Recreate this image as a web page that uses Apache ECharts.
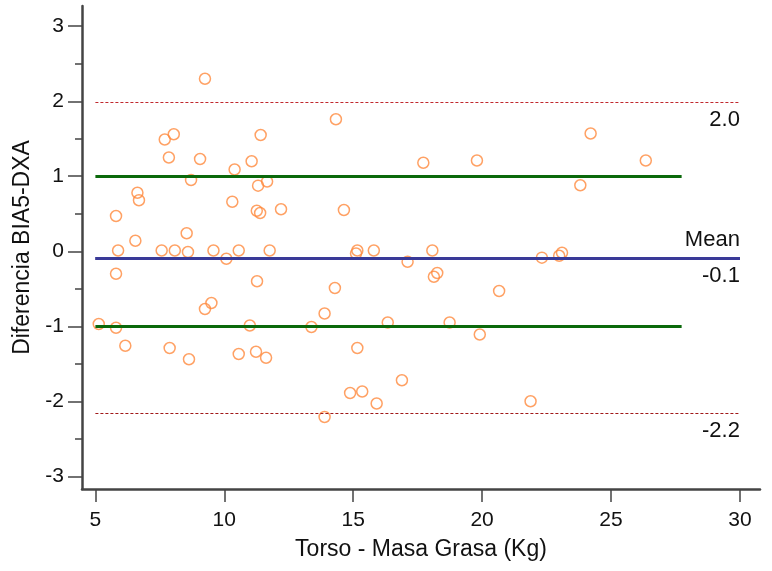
<!DOCTYPE html>
<html>
<head>
<meta charset="utf-8">
<script src="https://cdn.jsdelivr.net/npm/echarts@6/dist/echarts.min.js"></script>
<style>html,body{margin:0;padding:0;background:#fff}#c{width:772px;height:571px}</style>
</head>
<body>
<div id="c"></div>
<script>
// Data
const xValues = [9.25,7.69,8.04,11.41,7.85,9.06,10.40,11.06,8.71,11.31,11.66,6.63,6.69,10.31,11.26,11.39,12.20,5.80,8.54,6.55,
  5.88,7.57,8.08,8.59,9.58,10.08,10.56,11.76,5.80,11.27,9.50,9.25,5.13,5.80,10.99,6.16,7.88,8.63,10.56,11.23,11.62,
  14.64,15.16,15.11,15.80,17.11,18.07,18.13,18.26,22.32,14.29,20.66,13.89,13.38,16.34,18.74,19.91,15.16,16.89,14.88,15.35,15.91,21.88,13.89,
  14.33,17.72,19.80,24.21,26.35,23.81,23.10,22.99];
const yValues = [2.30,1.49,1.56,1.55,1.25,1.23,1.09,1.20,0.95,0.875,0.93,0.78,0.68,0.66,0.54,0.51,0.56,0.47,0.24,0.14,
  0.01,0.01,0.01,-0.01,0.01,-0.10,0.01,0.01,-0.30,-0.40,-0.69,-0.77,-0.97,-1.02,-0.99,-1.26,-1.29,-1.44,-1.37,-1.34,-1.42,
  0.55,0.01,-0.03,0.01,-0.14,0.01,-0.34,-0.29,-0.085,-0.49,-0.53,-0.83,-1.01,-0.95,-0.95,-1.11,-1.29,-1.72,-1.89,-1.87,-2.03,-2.00,-2.21,
  1.76,1.18,1.21,1.57,1.21,0.88,-0.02,-0.06];
const xTicks = [5,10,15,20,25,30];
const yTicks = [-3,-2,-1,0,1,2,3];
const yMinorTicks = [-2.5,-1.5,-0.5,0.5,1.5,2.5];
const meanDiff = -0.09;
const upperLoA = 1.99;
const lowerLoA = -2.16;
const band = [-1.0, 1.0];
const lineStart = 5;
const lineEnd = 30;
const bandEnd = 27.74;
const labels = {upper: '2.0', mean: 'Mean', meanVal: '-0.1', lower: '-2.2'};

const pts = xValues.map((x,i)=>[x,yValues[i]]);
const FONT = 'Liberation Sans, Arial, Helvetica, sans-serif';
const axisCol = '#444';

const chart = echarts.init(document.getElementById('c'));
const lbl = (text, pos) => ({show:true, formatter:text, position:pos, color:'#111', fontSize:22, fontFamily:FONT, distance:[0,7]});
chart.setOption({
  animation:false,
  grid:{left:82, right:12, top:6, bottom:82},
  xAxis:{type:'value', min:4.48, max:30.78,
    name:'Torso - Masa Grasa (Kg)', nameLocation:'middle', nameGap:49,
    nameTextStyle:{fontSize:23, color:'#111', fontFamily:FONT},
    axisLine:{show:true, onZero:false, lineStyle:{color:axisCol, width:2.5}},
    axisTick:{show:true, length:13, customValues:xTicks, lineStyle:{color:axisCol, width:1.5}},
    axisLabel:{customValues:xTicks, fontSize:21, color:'#111', margin:21, fontFamily:FONT},
    splitLine:{show:false}},
  yAxis:[{type:'value', min:-3.17, max:3.27,
    name:'Diferencia BIA5-DXA', nameLocation:'middle', nameGap:48, nameRotate:90,
    nameTextStyle:{fontSize:23, color:'#111', fontFamily:FONT},
    axisLine:{show:true, onZero:false, lineStyle:{color:axisCol, width:2.5}},
    axisTick:{show:true, length:14, customValues:yTicks, lineStyle:{color:axisCol, width:1.5}},
    axisLabel:{customValues:yTicks, fontSize:21, color:'#111', margin:18, fontFamily:FONT},
    splitLine:{show:false}},
   {type:'value', min:-3.17, max:3.27, position:'left', offset:0,
    axisLine:{show:false},
    axisTick:{show:true, length:7, customValues:yMinorTicks, lineStyle:{color:axisCol, width:1.5}},
    axisLabel:{show:false}, splitLine:{show:false}}],
  series:[
    {type:'scatter', data:[], z:1, silent:true,
     markLine:{symbol:'none', silent:true, animation:false,
       data:[
         [{coord:[lineStart,upperLoA], lineStyle:{color:'#c0282d', width:1, type:[3,2]}, label:lbl(labels.upper,'insideEndBottom')},{coord:[lineEnd,upperLoA]}],
         [{coord:[lineStart,lowerLoA], lineStyle:{color:'#a01818', width:1, type:[3,2]}, label:lbl(labels.lower,'insideEndBottom')},{coord:[lineEnd,lowerLoA]}],
         [{coord:[lineStart,band[1]], lineStyle:{color:'#0b690b', width:3, type:'solid'}, label:{show:false}},{coord:[bandEnd,band[1]]}],
         [{coord:[lineStart,band[0]], lineStyle:{color:'#0b690b', width:3, type:'solid'}, label:{show:false}},{coord:[bandEnd,band[0]]}],
         [{coord:[lineStart,meanDiff], lineStyle:{color:'#3a3a98', width:3, type:'solid'}, label:lbl(labels.mean,'insideEndTop')},{coord:[lineEnd,meanDiff]}],
         [{coord:[lineStart,meanDiff], lineStyle:{color:'#3a3a98', width:3, type:'solid'}, label:lbl(labels.meanVal,'insideEndBottom')},{coord:[lineEnd,meanDiff]}]
       ]}},
    {type:'scatter', data:pts, z:3, symbol:'circle', symbolSize:11,
     itemStyle:{color:'rgba(255,255,255,0)', borderColor:'#ff8a3d', borderWidth:1.5}}
  ]
});
</script>
</body>
</html>
